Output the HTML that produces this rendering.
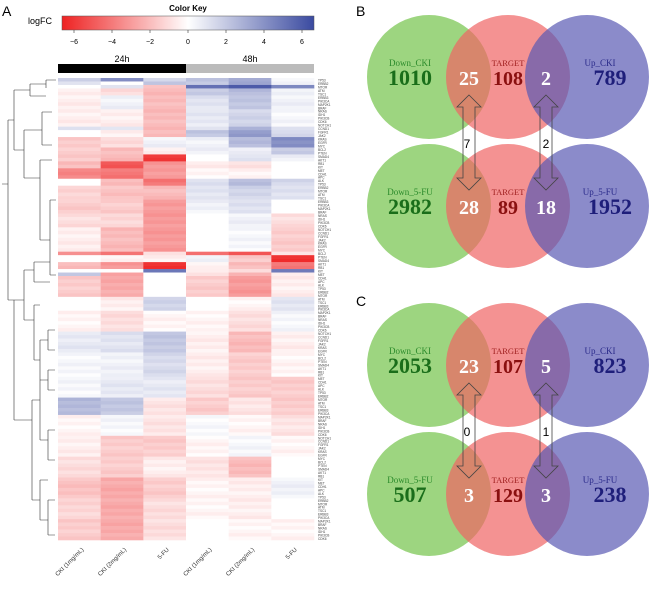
<!DOCTYPE html>
<html><head><meta charset="utf-8"><style>
body{margin:0;background:#fff;}
svg text{font-family:"Liberation Sans",sans-serif;}
.serif{font-family:"Liberation Serif",serif;}
</style></head><body>
<svg width="650" height="590" viewBox="0 0 650 590" xmlns="http://www.w3.org/2000/svg">
<defs>
<linearGradient id="ck" x1="0" x2="1" y1="0" y2="0">
<stop offset="0" stop-color="#ee2222"/><stop offset="0.5" stop-color="#ffffff"/><stop offset="1" stop-color="#3a4aa0"/>
</linearGradient>
</defs>
<text x="2" y="16" font-size="14">A</text>
<text x="188" y="11" font-size="8" font-weight="bold" text-anchor="middle">Color Key</text>
<text x="28" y="24" font-size="9">logFC</text>
<rect x="62" y="16" width="252" height="14" fill="url(#ck)" stroke="#555" stroke-width="0.5"/>
<g id="keyTicks"></g>
<rect x="58" y="64" width="128" height="9" fill="#000"/>
<rect x="186" y="64" width="128" height="9" fill="#bbb"/>
<text x="122" y="62" font-size="9" text-anchor="middle">24h</text>
<text x="250" y="62" font-size="9" text-anchor="middle">48h</text>
<g id="heat"></g>
<g id="genes"></g>
<g id="cols"></g>
<g stroke="#333" stroke-width="0.6" fill="none">
<path d="M2,184 H8 M8,120 V300 M8,120 H14 M8,300 H14 M14,90 V150 M14,90 H30 M14,150 H24 M24,130 V178 M24,130 H42 M24,178 H40 M40,160 V240 M40,160 H52 M40,240 H50 M50,200 V275 M50,200 H56 M50,275 H56 M42,112 V145 M42,112 H52 M42,145 H52 M30,84 V96 M30,84 H46 M30,96 H46 M46,80 V88 M46,80 H56"/>
<path d="M14,300 V420 M14,300 H24 M14,420 H32 M24,270 V320 M24,270 H34 M24,320 H34 M34,262 V282 M34,262 H50 M34,282 H50 M34,305 V360 M34,305 H40 M34,360 H40 M40,340 V380 M40,340 H48 M40,380 H48 M48,330 V350 M48,330 H55 M48,350 H55 M48,370 V390 M48,370 H55 M48,390 H55 M32,400 V500 M32,400 H40 M32,500 H40 M40,380 V440 M40,440 H48 M40,480 V520 M40,480 H48 M40,520 H48 M48,430 V460 M48,430 H55 M48,460 H55 M48,500 V535 M48,500 H55 M48,535 H55"/>
</g>
<!-- Venn panels -->
<text x="356" y="16" font-size="14">B</text>
<text x="356" y="306" font-size="14">C</text>
<g id="venn"></g>
</svg>
<script>
// Heatmap data: row counts per segment and logFC per column
const columns = ["CKI (1mg/mL)","CKI (2mg/mL)","5-FU","CKI (1mg/mL)","CKI (2mg/mL)","5-FU"];
const keyTicks = [-6,-4,-2,0,2,4,6];
const segRows = [1,1,1,2,4,5,1,2,3,2,2,2,3,2,4,4,4,7,1,2,2,1,1,6,4,6,6,7,6,5,6,6,6,6,6,6];
const segVals = [
[2,4,1.5,2,3,0.5],[1,0,2,2,3,0.5],[0,1,-2,5,6,4],[-0.5,-1,-2,2,2.5,0.5],[-0.5,0.5,-2,1,2,0.5],
[-0.5,-0.5,-2,0.8,1.5,0.3],[1,1,-2,1,3,1],[0,-0.5,-2,2,3.5,1.5],[-1.5,-1,0.5,0.5,2.5,4],
[-1.5,-2,-0.5,0.5,0.5,2],[-1.5,-2,-6,0,1,0.5],[-2,-5,-3,-0.5,-1,0],[-3.5,-4,-3,-0.3,-0.3,0],
[0,-2,-4,1,2.5,1.5],[-1.2,-1.8,-2,1,1.5,1],[-1.5,-1.5,-3,0.5,1,0],[-1,-1.2,-3,0,0.5,-1],
[-0.5,-2,-3,0,0.3,-1.5],[-3.5,-4,-1,-4,-5,-1],[0,-0.5,-0.5,0.5,-1.5,-6],[-2,-3,-6,-0.5,-2,-4],
[0,0,5,-0.3,-1,5],[2,-3,0,-1,-2,-0.5],[-1.5,-2.5,0,-1.5,-3,-0.5],[0,-0.5,1.5,0,-0.3,1],
[-0.3,-1,-0.3,-0.3,-1,0.3],[0.8,1,2,-0.5,-2,-0.5],[0.3,0.5,1.3,-0.5,-1.5,-0.3],[0.3,0.8,0.8,-1,-1.5,-1.5],
[2.5,2,-0.8,-1.5,-0.8,-1.5],[-0.3,0.3,-0.8,0.2,-0.3,-0.8],[-0.5,-1.5,-1.5,-0.3,0.3,-0.3],
[-1,-1.5,-0.5,-0.8,-2,0],[-1.8,-2.5,-1.5,-0.3,-0.5,0.5],[-1.2,-2.5,-1,-0.3,-0.5,0],[-1.5,-2.5,-1,0,-0.3,-0.3]];
const geneNames = ["TP53","ERBB2","MTOR","ATM","TSC1","ERBB3","PIK3CA","MAP2K1","BRAF","NRAS","IDH1","PIK3CB","CDK6","NOTCH1","CCND1","FGFR1","JAK2","KRAS","EGFR","MYC","BCL2","PTEN","SMAD4","AKT1","RB1","KIT","MET","CDH1","APC","ALK"];
const NS="http://www.w3.org/2000/svg";
function mk(t,a,p){const e=document.createElementNS(NS,t);for(const k in a)e.setAttribute(k,a[k]);p.appendChild(e);return e;}
const hx0=58,hx1=314,hy0=78,hy1=540;
function colX(i){return hx0+i*(hx1-hx0)/columns.length;}
function keyX(v){return 188+v*19;}
function color(v){const t=Math.min(1,Math.abs(v)/6.5);
 if(v<0){return `rgb(${Math.round(255-t*17)},${Math.round(255-t*221)},${Math.round(255-t*221)})`;}
 return `rgb(${Math.round(255-t*197)},${Math.round(255-t*181)},${Math.round(255-t*95)})`;}
const kt=document.getElementById('keyTicks');
keyTicks.forEach(v=>{const l=mk('line',{x1:keyX(v),x2:keyX(v),y1:30,y2:33,stroke:'#333','stroke-width':0.6},kt);


const t=mk('text',{x:keyX(v),y:44,'font-size':7,'text-anchor':'middle'},kt);t.textContent=v<0?'\u2212'+(-v):String(v);

});
const totalRows=segRows.reduce((a,b)=>a+b,0);const rh=(hy1-hy0)/totalRows;
const heat=document.getElementById('heat'),genes=document.getElementById('genes');
let r=0;
segRows.forEach((n,s)=>{for(let k=0;k<n;k++){const y=hy0+r*rh;
 segVals[s].forEach((v,c)=>{const jit=((r*7+c*3)%5-2)*0.12;const e=mk('rect',{x:colX(c),y:y,width:colX(c+1)-colX(c)+0.3,height:rh+0.3,fill:color(v+jit*Math.sign(v))},heat);
 
 });
 const g=mk('text',{x:318,y:y+rh,'font-size':3.2,fill:'#444'},genes);g.textContent=geneNames[r%geneNames.length];
 
 
 r++;}});
const cl=document.getElementById('cols');
columns.forEach((c,i)=>{const x=colX(i)+26;const t=mk('text',{x:x,y:550,'font-size':6,'text-anchor':'end',transform:`rotate(-45 ${x} 550)`,fill:'#333'},cl);t.textContent=c;

});
// Venn
const vennPanels=[
 {dy:0,top:["Down_CKI","1010","25","108","2","Up_CKI","789"],bot:["Down_5-FU","2982","28","89","18","Up_5-FU","1952"],arrows:["7","2"]},
 {dy:288,top:["Down_CKI","2053","23","107","5","Up_CKI","823"],bot:["Down_5-FU","507","3","129","3","Up_5-FU","238"],arrows:["0","1"]}];
const venn=document.getElementById('venn');
function txt(x,y,s,fs,fill,bold,p,name){const t=mk('text',{x:x,y:y,'font-size':fs,fill:fill,'text-anchor':'middle',class:'serif'},p);if(bold)t.setAttribute('font-weight','bold');t.textContent=s;

}
function row(cy,lab,p,pre){
 mk('circle',{cx:429,cy:cy,r:62,fill:'#8cce6a','fill-opacity':0.85},p);
 mk('circle',{cx:508,cy:cy,r:62,fill:'#f06464','fill-opacity':0.7},p);
 mk('circle',{cx:587,cy:cy,r:62,fill:'#5a5ab4','fill-opacity':0.7},p);
 txt(410,cy-11,lab[0],9,'#2a8a2a',false,p,'down-set-label');
 txt(410,cy+8,lab[1],22,'#1a6e1a',true,p,'down-count');
 txt(469,cy+8,lab[2],20,'#fff',true,p,'down-overlap-count');
 txt(508,cy-11,'TARGET',8.5,'#a02020',false,p,'target-label');
 txt(508,cy+8,lab[3],20,'#8a1010',true,p,'target-count');
 txt(546,cy+8,lab[4],20,'#fff',true,p,'up-overlap-count');
 txt(600,cy-11,lab[5],9,'#2a2a8a',false,p,'up-set-label');
 txt(610,cy+8,lab[6],22,'#1e1e7a',true,p,'up-count');}
function arrow(x,y1,y2,p){const w=6,hw=12,hl=12;
 const d=`M${x},${y1} L${x+hw},${y1+hl} L${x+w},${y1+hl} L${x+w},${y2-hl} L${x+hw},${y2-hl} L${x},${y2} L${x-hw},${y2-hl} L${x-w},${y2-hl} L${x-w},${y1+hl} L${x-hw},${y1+hl} Z`;
 const a=mk('path',{d:d,fill:'none',stroke:'#444','stroke-width':0.8},p);
 
 }
vennPanels.forEach((v,i)=>{const g=mk('g',{},venn);
 
 
 row(77+v.dy,v.top,g,'top');row(206+v.dy,v.bot,g,'bottom');
 arrow(469,95+v.dy,190+v.dy,g);arrow(546,95+v.dy,190+v.dy,g);
 const a1=mk('text',{x:467,y:148+v.dy,'font-size':12,'text-anchor':'middle'},g);a1.textContent=v.arrows[0];
 
 
 const a2=mk('text',{x:546,y:148+v.dy,'font-size':12,'text-anchor':'middle'},g);a2.textContent=v.arrows[1];
 
 });
</script>
</body></html>
